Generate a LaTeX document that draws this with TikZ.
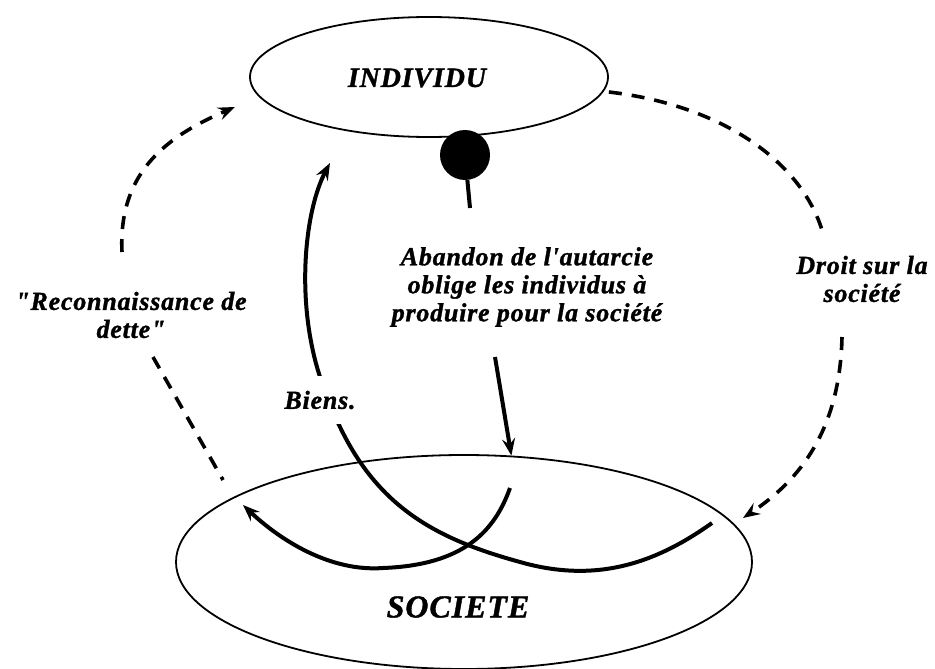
\documentclass[tikz,border=0pt]{standalone}
\usepackage{fontspec}
\newfontfamily\lblfont{Liberation Serif}[LetterSpace=3, BoldItalicFeatures={FakeBold=1.2}]
\usetikzlibrary{arrows.meta,shapes.geometric}

\begin{document}
\begin{tikzpicture}[x=1pt, y=-1pt, >={Stealth[length=17pt, width=13pt, inset=6pt]},
    lbl/.style={align=center, font=\lblfont\bfseries\itshape\fontsize{26}{28}\selectfont},
    bulle/.style={draw, ellipse, line width=1.8pt, inner sep=0pt},
    plein/.style={line width=4pt},
    tirets/.style={line width=3.6pt, dash pattern=on 13pt off 10pt}]
  \useasboundingbox (0,0) rectangle (935,669);

  % 1. les deux ensembles
  \node[bulle, minimum width=358pt, minimum height=120pt] (individu) at (429,77) {};
  \node[bulle, minimum width=576pt, minimum height=214pt] (societe) at (464,562) {};
  \node[lbl, font=\lblfont\bfseries\itshape\fontsize{28}{30}\selectfont] (individuTxt) at (417,78) {INDIVIDU};
  \node[lbl, font=\lblfont\bfseries\itshape\fontsize{32}{34}\selectfont] (societeTxt) at (458,607) {SOCIETE};

  % 2. textes
  \node[lbl] (abandon) at (527,287) {Abandon de l'autarcie\\oblige les individus à\\produire pour la société};
  \node[lbl] (droit) at (862,279) {Droit sur la\\société};
  \node[lbl] (reco) at (131,315) {"Reconnaissance de\\dette"};

  % 3. rond noir
  \node[circle, fill=black, minimum size=50pt, inner sep=0pt] (dot) at (465,155) {};
  \coordinate (stemEnd) at (470,208);
  \draw[plein] (dot) -- (stemEnd);

  % 4. fleches pleines
  \coordinate (abandonBas) at (495,357);
  \draw[plein, ->] (abandonBas) -- (societe.66);
  \coordinate (stubHaut) at (510,488);
  \coordinate (stubFin) at (243,505);
  \draw[plein, ->] (stubHaut) .. controls (495,530) and (465,565) .. (383,568)
    .. controls (330,572) and (280,540) .. (stubFin);
  \coordinate (biensDebut) at (712,523);
  \coordinate (biensFin) at (330,163);
  \draw[plein, ->] (biensDebut) .. controls (660,560) and (600,585) .. (520,562)
    .. controls (440,540) and (380,510) .. (340,427)
    .. controls (330,406) and (323,389) .. (320,377)
    .. controls (295,300) and (305,210) .. (biensFin);
  \node[lbl, fill=white, inner ysep=15pt, inner xsep=2pt] (biens) at (320,400) {Biens.};

  % 5. tirets
  \coordinate (recoHaut) at (122,252);
  \coordinate (recoFleche) at (235,107);
  \draw[tirets, ->] (recoHaut) .. controls (118,170) and (170,135) .. (recoFleche);
  \coordinate (recoBas) at (153,357);
  \coordinate (recoFin) at (223,480);
  \draw[tirets] (recoBas) -- (recoFin);
  \coordinate (droitHaut) at (822,230);
  \draw[tirets] ([yshift=-15pt]individu.east) .. controls (720,105) and (800,160) .. (droitHaut);
  \coordinate (droitBas) at (842,337);
  \coordinate (droitFleche) at (743,518);
  \draw[tirets, ->] (droitBas) .. controls (840,430) and (800,480) .. (droitFleche);
\end{tikzpicture}
\end{document}
